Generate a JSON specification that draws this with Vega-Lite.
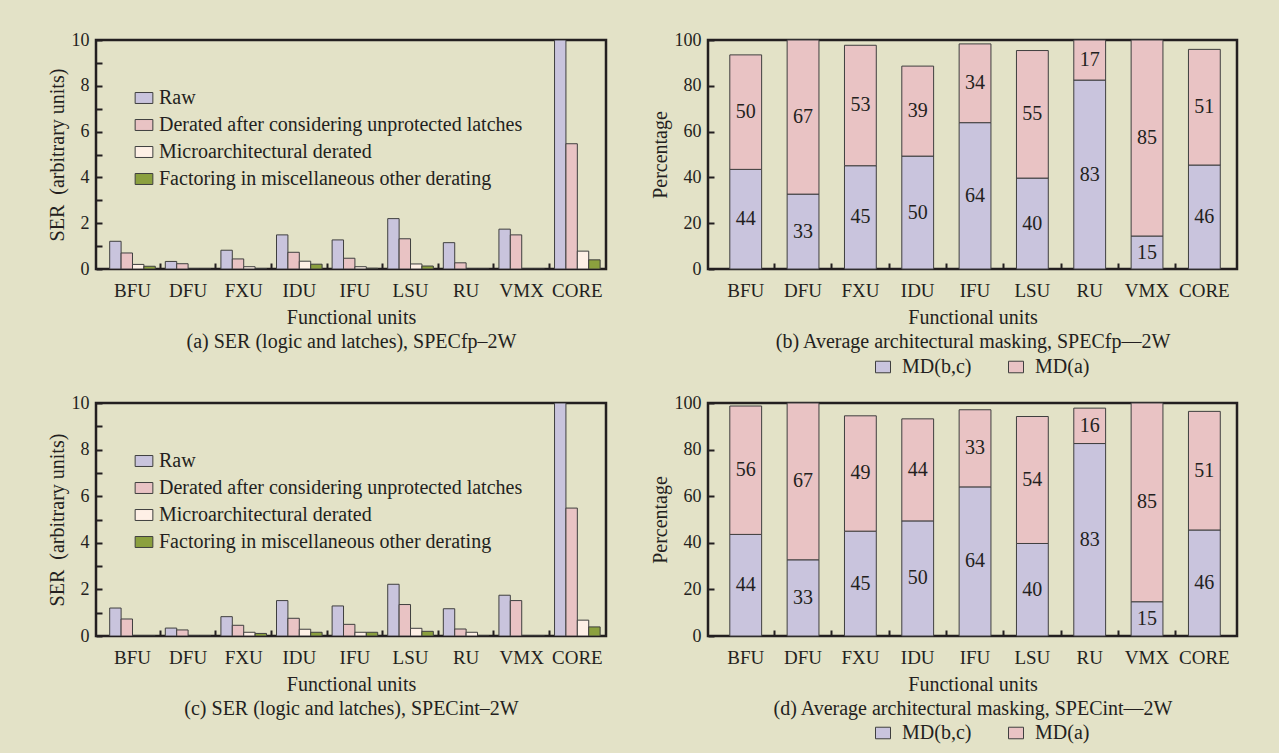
{
  "$schema": "https://vega.github.io/schema/vega-lite/v6.json",
  "background": "#E3E2C7",
  "padding": {"left": 45, "top": 29, "right": 40, "bottom": 13},
  "config": {
    "font": "Liberation Serif",
    "view": {"stroke": "#231F20", "strokeWidth": 2.5},
    "axis": {
      "domain": false, "grid": false,
      "labelFont": "Liberation Serif", "titleFont": "Liberation Serif",
      "labelColor": "#231F20", "titleColor": "#231F20", "tickColor": "#231F20",
      "titleFontWeight": "normal", "labelFontSize": 18, "titleFontSize": 20,
      "tickSize": -6, "tickWidth": 2
    },
    "legend": {
      "labelFont": "Liberation Serif", "labelFontSize": 20, "labelColor": "#231F20",
      "symbolStrokeColor": "#3F3F3F", "symbolStrokeWidth": 1, "padding": 0, "symbolOpacity": 1
    }
  },
  "resolve": {"scale": {"color": "independent"}, "legend": {"color": "independent"}},
  "columns": 2,
  "align": "each",
  "spacing": {"row": 13, "column": 40},
  "concat": [
    {
      "width": 510, "height": 229,
      "data": {"values": [
        {"unit": "BFU", "series": "Raw", "value": 1.21},
        {"unit": "BFU", "series": "Derated after considering unprotected latches", "value": 0.70},
        {"unit": "BFU", "series": "Microarchitectural derated", "value": 0.20},
        {"unit": "BFU", "series": "Factoring in miscellaneous other derating", "value": 0.12},
        {"unit": "DFU", "series": "Raw", "value": 0.33},
        {"unit": "DFU", "series": "Derated after considering unprotected latches", "value": 0.23},
        {"unit": "DFU", "series": "Microarchitectural derated", "value": 0},
        {"unit": "DFU", "series": "Factoring in miscellaneous other derating", "value": 0},
        {"unit": "FXU", "series": "Raw", "value": 0.82},
        {"unit": "FXU", "series": "Derated after considering unprotected latches", "value": 0.44},
        {"unit": "FXU", "series": "Microarchitectural derated", "value": 0.10},
        {"unit": "FXU", "series": "Factoring in miscellaneous other derating", "value": 0.02},
        {"unit": "IDU", "series": "Raw", "value": 1.49},
        {"unit": "IDU", "series": "Derated after considering unprotected latches", "value": 0.73},
        {"unit": "IDU", "series": "Microarchitectural derated", "value": 0.34},
        {"unit": "IDU", "series": "Factoring in miscellaneous other derating", "value": 0.21},
        {"unit": "IFU", "series": "Raw", "value": 1.27},
        {"unit": "IFU", "series": "Derated after considering unprotected latches", "value": 0.47},
        {"unit": "IFU", "series": "Microarchitectural derated", "value": 0.10},
        {"unit": "IFU", "series": "Factoring in miscellaneous other derating", "value": 0.03},
        {"unit": "LSU", "series": "Raw", "value": 2.2},
        {"unit": "LSU", "series": "Derated after considering unprotected latches", "value": 1.32},
        {"unit": "LSU", "series": "Microarchitectural derated", "value": 0.22},
        {"unit": "LSU", "series": "Factoring in miscellaneous other derating", "value": 0.13},
        {"unit": "RU", "series": "Raw", "value": 1.15},
        {"unit": "RU", "series": "Derated after considering unprotected latches", "value": 0.27},
        {"unit": "RU", "series": "Microarchitectural derated", "value": 0},
        {"unit": "RU", "series": "Factoring in miscellaneous other derating", "value": 0},
        {"unit": "VMX", "series": "Raw", "value": 1.74},
        {"unit": "VMX", "series": "Derated after considering unprotected latches", "value": 1.49},
        {"unit": "VMX", "series": "Microarchitectural derated", "value": 0},
        {"unit": "VMX", "series": "Factoring in miscellaneous other derating", "value": 0},
        {"unit": "CORE", "series": "Raw", "value": 10},
        {"unit": "CORE", "series": "Derated after considering unprotected latches", "value": 5.47},
        {"unit": "CORE", "series": "Microarchitectural derated", "value": 0.78},
        {"unit": "CORE", "series": "Factoring in miscellaneous other derating", "value": 0.40}
      ]},
      "mark": {"type": "bar", "stroke": "#3F3F3F", "strokeWidth": 1, "clip": true},
      "encoding": {
        "x": {
          "field": "unit", "type": "nominal",
          "sort": ["BFU", "DFU", "FXU", "IDU", "IFU", "LSU", "RU", "VMX", "CORE"],
          "scale": {"paddingInner": 0.18, "paddingOuter": 0.176, "align": 0.7},
          "axis": {
            "labelAngle": 0, "labelFontSize": 19, "labelPadding": 18, "bandPosition": -0.11,
            "tickOpacity": {"condition": {"test": "datum.value === 'BFU'", "value": 0}, "value": 1},
            "title": ["Functional units", "(a) SER (logic and latches), SPECfp–2W"],
            "titleLineHeight": 24, "titlePadding": 7
          }
        },
        "xOffset": {
          "field": "series", "type": "nominal",
          "sort": ["Raw", "Derated after considering unprotected latches", "Microarchitectural derated", "Factoring in miscellaneous other derating"],
          "scale": {"paddingInner": 0, "paddingOuter": 0}
        },
        "y": {
          "field": "value", "type": "quantitative",
          "scale": {"domain": [0, 10]},
          "axis": {
            "values": [0, 1, 2, 3, 4, 5, 6, 7, 8, 9, 10],
            "labelExpr": "datum.value % 2 === 0 ? datum.label : ''",
            "title": "SER\u00a0 (arbitrary units)", "labelPadding": 13, "titlePadding": 4
          }
        },
        "color": {
          "field": "series", "type": "nominal",
          "scale": {
            "domain": ["Raw", "Derated after considering unprotected latches", "Microarchitectural derated", "Factoring in miscellaneous other derating"],
            "range": ["#C9C4DD", "#E9C3C4", "#FEF0E6", "#8BA03E"]
          },
          "legend": {
            "orient": "none", "direction": "vertical", "legendX": 38, "legendY": 48, "title": null,
            "symbolType": "M-1,-0.62H1V0.62H-1Z", "symbolSize": 313,
            "labelOffset": 5, "rowPadding": 7, "labelLimit": 500
          }
        }
      }
    },
    {
      "width": 529, "height": 229,
      "data": {"values": [
        {"unit": "BFU", "comp": "MD(b,c)", "value": 43.5, "label": 44},
        {"unit": "BFU", "comp": "MD(a)", "value": 50.0, "label": 50},
        {"unit": "DFU", "comp": "MD(b,c)", "value": 32.7, "label": 33},
        {"unit": "DFU", "comp": "MD(a)", "value": 67.3, "label": 67},
        {"unit": "FXU", "comp": "MD(b,c)", "value": 45.1, "label": 45},
        {"unit": "FXU", "comp": "MD(a)", "value": 52.6, "label": 53},
        {"unit": "IDU", "comp": "MD(b,c)", "value": 49.3, "label": 50},
        {"unit": "IDU", "comp": "MD(a)", "value": 39.3, "label": 39},
        {"unit": "IFU", "comp": "MD(b,c)", "value": 63.9, "label": 64},
        {"unit": "IFU", "comp": "MD(a)", "value": 34.4, "label": 34},
        {"unit": "LSU", "comp": "MD(b,c)", "value": 39.7, "label": 40},
        {"unit": "LSU", "comp": "MD(a)", "value": 55.7, "label": 55},
        {"unit": "RU", "comp": "MD(b,c)", "value": 82.5, "label": 83},
        {"unit": "RU", "comp": "MD(a)", "value": 17.5, "label": 17},
        {"unit": "VMX", "comp": "MD(b,c)", "value": 14.4, "label": 15},
        {"unit": "VMX", "comp": "MD(a)", "value": 85.6, "label": 85},
        {"unit": "CORE", "comp": "MD(b,c)", "value": 45.4, "label": 46},
        {"unit": "CORE", "comp": "MD(a)", "value": 50.5, "label": 51}
      ]},
      "transform": [
        {"stack": "value", "groupby": ["unit"], "sort": [{"field": "comp", "order": "descending"}], "as": ["v0", "v1"]},
        {"calculate": "(datum.v0 + datum.v1) / 2", "as": "mid"}
      ],
      "encoding": {
        "x": {
          "field": "unit", "type": "nominal",
          "sort": ["BFU", "DFU", "FXU", "IDU", "IFU", "LSU", "RU", "VMX", "CORE"],
          "scale": {"paddingInner": 0.445, "paddingOuter": 0.336, "align": 0.566},
          "axis": {
            "labelAngle": 0, "labelFontSize": 19, "labelPadding": 18, "bandPosition": -0.4,
            "tickOpacity": {"condition": {"test": "datum.value === 'BFU'", "value": 0}, "value": 1},
            "title": ["Functional units", "(b) Average architectural masking, SPECfp—2W"],
            "titleLineHeight": 24, "titlePadding": 7
          }
        }
      },
      "layer": [
        {
          "mark": {"type": "bar", "stroke": "#3F3F3F", "strokeWidth": 1},
          "encoding": {
            "y": {
              "field": "v0", "type": "quantitative", "scale": {"domain": [0, 100]},
              "axis": {
                "values": [0, 10, 20, 30, 40, 50, 60, 70, 80, 90, 100],
                "labelExpr": "datum.value % 20 === 0 ? datum.label : ''",
                "title": "Percentage", "labelPadding": 13, "titlePadding": 4
              }
            },
            "y2": {"field": "v1"},
            "color": {
              "field": "comp", "type": "nominal",
              "scale": {"domain": ["MD(b,c)", "MD(a)"], "range": ["#C9C4DD", "#E9C3C4"]},
              "legend": {
                "orient": "none", "direction": "horizontal", "legendX": 165, "legendY": 317, "title": null,
                "symbolType": "M-1,-0.77H1V0.77H-1Z", "symbolSize": 225,
                "labelOffset": 9, "columnPadding": 34
              }
            }
          }
        },
        {
          "mark": {"type": "text", "fontSize": 20, "color": "#231F20", "font": "Liberation Serif"},
          "encoding": {
            "y": {"field": "mid", "type": "quantitative"},
            "text": {"field": "label", "type": "quantitative"}
          }
        }
      ]
    },
    {
      "width": 510, "height": 233,
      "data": {"values": [
        {"unit": "BFU", "series": "Raw", "value": 1.20},
        {"unit": "BFU", "series": "Derated after considering unprotected latches", "value": 0.73},
        {"unit": "BFU", "series": "Microarchitectural derated", "value": 0},
        {"unit": "BFU", "series": "Factoring in miscellaneous other derating", "value": 0},
        {"unit": "DFU", "series": "Raw", "value": 0.34},
        {"unit": "DFU", "series": "Derated after considering unprotected latches", "value": 0.26},
        {"unit": "DFU", "series": "Microarchitectural derated", "value": 0},
        {"unit": "DFU", "series": "Factoring in miscellaneous other derating", "value": 0},
        {"unit": "FXU", "series": "Raw", "value": 0.83},
        {"unit": "FXU", "series": "Derated after considering unprotected latches", "value": 0.46},
        {"unit": "FXU", "series": "Microarchitectural derated", "value": 0.16},
        {"unit": "FXU", "series": "Factoring in miscellaneous other derating", "value": 0.11},
        {"unit": "IDU", "series": "Raw", "value": 1.52},
        {"unit": "IDU", "series": "Derated after considering unprotected latches", "value": 0.76},
        {"unit": "IDU", "series": "Microarchitectural derated", "value": 0.29},
        {"unit": "IDU", "series": "Factoring in miscellaneous other derating", "value": 0.16},
        {"unit": "IFU", "series": "Raw", "value": 1.29},
        {"unit": "IFU", "series": "Derated after considering unprotected latches", "value": 0.50},
        {"unit": "IFU", "series": "Microarchitectural derated", "value": 0.16},
        {"unit": "IFU", "series": "Factoring in miscellaneous other derating", "value": 0.16},
        {"unit": "LSU", "series": "Raw", "value": 2.22},
        {"unit": "LSU", "series": "Derated after considering unprotected latches", "value": 1.35},
        {"unit": "LSU", "series": "Microarchitectural derated", "value": 0.33},
        {"unit": "LSU", "series": "Factoring in miscellaneous other derating", "value": 0.20},
        {"unit": "RU", "series": "Raw", "value": 1.17},
        {"unit": "RU", "series": "Derated after considering unprotected latches", "value": 0.30},
        {"unit": "RU", "series": "Microarchitectural derated", "value": 0.16},
        {"unit": "RU", "series": "Factoring in miscellaneous other derating", "value": 0},
        {"unit": "VMX", "series": "Raw", "value": 1.75},
        {"unit": "VMX", "series": "Derated after considering unprotected latches", "value": 1.52},
        {"unit": "VMX", "series": "Microarchitectural derated", "value": 0},
        {"unit": "VMX", "series": "Factoring in miscellaneous other derating", "value": 0},
        {"unit": "CORE", "series": "Raw", "value": 10},
        {"unit": "CORE", "series": "Derated after considering unprotected latches", "value": 5.49},
        {"unit": "CORE", "series": "Microarchitectural derated", "value": 0.68},
        {"unit": "CORE", "series": "Factoring in miscellaneous other derating", "value": 0.39}
      ]},
      "mark": {"type": "bar", "stroke": "#3F3F3F", "strokeWidth": 1, "clip": true},
      "encoding": {
        "x": {
          "field": "unit", "type": "nominal",
          "sort": ["BFU", "DFU", "FXU", "IDU", "IFU", "LSU", "RU", "VMX", "CORE"],
          "scale": {"paddingInner": 0.18, "paddingOuter": 0.176, "align": 0.7},
          "axis": {
            "labelAngle": 0, "labelFontSize": 19, "labelPadding": 18, "bandPosition": -0.11,
            "tickOpacity": {"condition": {"test": "datum.value === 'BFU'", "value": 0}, "value": 1},
            "title": ["Functional units", "(c) SER (logic and latches), SPECint–2W"],
            "titleLineHeight": 24, "titlePadding": 7
          }
        },
        "xOffset": {
          "field": "series", "type": "nominal",
          "sort": ["Raw", "Derated after considering unprotected latches", "Microarchitectural derated", "Factoring in miscellaneous other derating"],
          "scale": {"paddingInner": 0, "paddingOuter": 0}
        },
        "y": {
          "field": "value", "type": "quantitative",
          "scale": {"domain": [0, 10]},
          "axis": {
            "values": [0, 1, 2, 3, 4, 5, 6, 7, 8, 9, 10],
            "labelExpr": "datum.value % 2 === 0 ? datum.label : ''",
            "title": "SER\u00a0 (arbitrary units)", "labelPadding": 13, "titlePadding": 4
          }
        },
        "color": {
          "field": "series", "type": "nominal",
          "scale": {
            "domain": ["Raw", "Derated after considering unprotected latches", "Microarchitectural derated", "Factoring in miscellaneous other derating"],
            "range": ["#C9C4DD", "#E9C3C4", "#FEF0E6", "#8BA03E"]
          },
          "legend": {
            "orient": "none", "direction": "vertical", "legendX": 38, "legendY": 48, "title": null,
            "symbolType": "M-1,-0.62H1V0.62H-1Z", "symbolSize": 313,
            "labelOffset": 5, "rowPadding": 7, "labelLimit": 500
          }
        }
      }
    },
    {
      "width": 529, "height": 233,
      "data": {"values": [
        {"unit": "BFU", "comp": "MD(b,c)", "value": 43.6, "label": 44},
        {"unit": "BFU", "comp": "MD(a)", "value": 55.1, "label": 56},
        {"unit": "DFU", "comp": "MD(b,c)", "value": 32.7, "label": 33},
        {"unit": "DFU", "comp": "MD(a)", "value": 67.3, "label": 67},
        {"unit": "FXU", "comp": "MD(b,c)", "value": 45.0, "label": 45},
        {"unit": "FXU", "comp": "MD(a)", "value": 49.5, "label": 49},
        {"unit": "IDU", "comp": "MD(b,c)", "value": 49.4, "label": 50},
        {"unit": "IDU", "comp": "MD(a)", "value": 43.8, "label": 44},
        {"unit": "IFU", "comp": "MD(b,c)", "value": 64.0, "label": 64},
        {"unit": "IFU", "comp": "MD(a)", "value": 33.1, "label": 33},
        {"unit": "LSU", "comp": "MD(b,c)", "value": 39.7, "label": 40},
        {"unit": "LSU", "comp": "MD(a)", "value": 54.5, "label": 54},
        {"unit": "RU", "comp": "MD(b,c)", "value": 82.6, "label": 83},
        {"unit": "RU", "comp": "MD(a)", "value": 15.2, "label": 16},
        {"unit": "VMX", "comp": "MD(b,c)", "value": 14.7, "label": 15},
        {"unit": "VMX", "comp": "MD(a)", "value": 85.3, "label": 85},
        {"unit": "CORE", "comp": "MD(b,c)", "value": 45.5, "label": 46},
        {"unit": "CORE", "comp": "MD(a)", "value": 50.9, "label": 51}
      ]},
      "transform": [
        {"stack": "value", "groupby": ["unit"], "sort": [{"field": "comp", "order": "descending"}], "as": ["v0", "v1"]},
        {"calculate": "(datum.v0 + datum.v1) / 2", "as": "mid"}
      ],
      "encoding": {
        "x": {
          "field": "unit", "type": "nominal",
          "sort": ["BFU", "DFU", "FXU", "IDU", "IFU", "LSU", "RU", "VMX", "CORE"],
          "scale": {"paddingInner": 0.445, "paddingOuter": 0.336, "align": 0.566},
          "axis": {
            "labelAngle": 0, "labelFontSize": 19, "labelPadding": 18, "bandPosition": -0.4,
            "tickOpacity": {"condition": {"test": "datum.value === 'BFU'", "value": 0}, "value": 1},
            "title": ["Functional units", "(d) Average architectural masking, SPECint—2W"],
            "titleLineHeight": 24, "titlePadding": 7
          }
        }
      },
      "layer": [
        {
          "mark": {"type": "bar", "stroke": "#3F3F3F", "strokeWidth": 1},
          "encoding": {
            "y": {
              "field": "v0", "type": "quantitative", "scale": {"domain": [0, 100]},
              "axis": {
                "values": [0, 10, 20, 30, 40, 50, 60, 70, 80, 90, 100],
                "labelExpr": "datum.value % 20 === 0 ? datum.label : ''",
                "title": "Percentage", "labelPadding": 13, "titlePadding": 4
              }
            },
            "y2": {"field": "v1"},
            "color": {
              "field": "comp", "type": "nominal",
              "scale": {"domain": ["MD(b,c)", "MD(a)"], "range": ["#C9C4DD", "#E9C3C4"]},
              "legend": {
                "orient": "none", "direction": "horizontal", "legendX": 165, "legendY": 320, "title": null,
                "symbolType": "M-1,-0.77H1V0.77H-1Z", "symbolSize": 225,
                "labelOffset": 9, "columnPadding": 34
              }
            }
          }
        },
        {
          "mark": {"type": "text", "fontSize": 20, "color": "#231F20", "font": "Liberation Serif"},
          "encoding": {
            "y": {"field": "mid", "type": "quantitative"},
            "text": {"field": "label", "type": "quantitative"}
          }
        }
      ]
    }
  ]
}
